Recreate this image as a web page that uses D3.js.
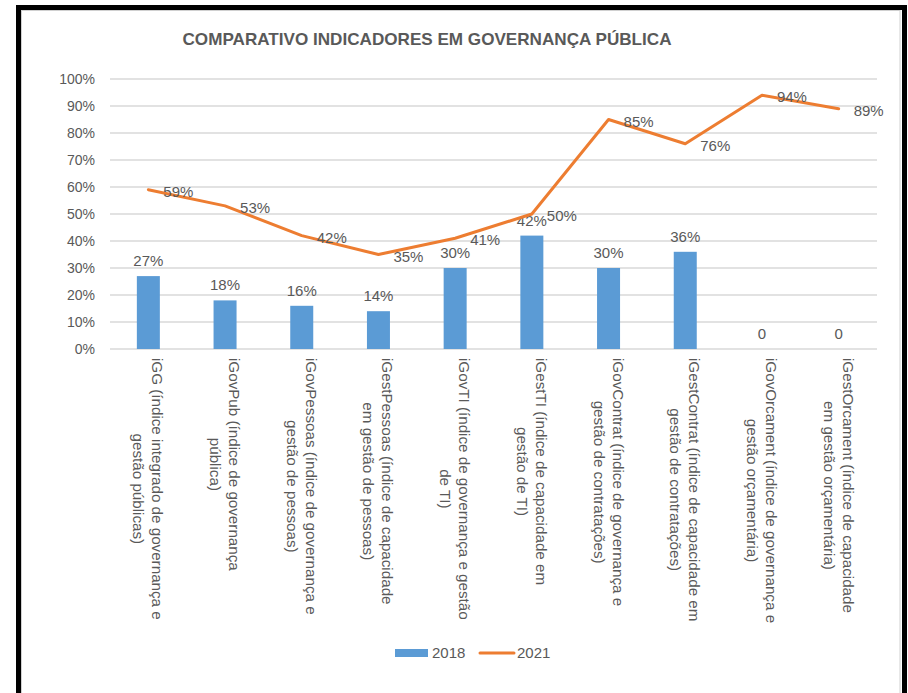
<!DOCTYPE html>
<html><head><meta charset="utf-8">
<script src="https://cdn.jsdelivr.net/npm/d3@7"></script>
<style>
html,body{margin:0;padding:0;background:#fff;overflow:hidden;}
text{font-family:"Liberation Sans",Arial,sans-serif;}
</style></head>
<body>
<svg id="chart" width="908" height="693"></svg>
<script>
const categories = [
  ["iGG (índice integrado de governança e", "gestão públicas)"],
  ["iGovPub (índice de governança", "pública)"],
  ["iGovPessoas (índice de governança e", "gestão de pessoas)"],
  ["iGestPessoas (índice de capacidade", "em gestão de pessoas)"],
  ["iGovTI (índice de governança e gestão", "de TI)"],
  ["iGestTI (índice de capacidade em", "gestão de TI)"],
  ["iGovContrat (índice de governança e", "gestão de contratações)"],
  ["iGestContrat (índice de capacidade em", "gestão de contratações)"],
  ["iGovOrcament (índice de governança e", "gestão orçamentária)"],
  ["iGestOrcament (índice de capacidade", "em gestão orçamentária)"]
];
const values2018 = [27, 18, 16, 14, 30, 42, 30, 36, 0, 0];
const values2021 = [59, 53, 42, 35, 41, 50, 85, 76, 94, 89];
const yTicks = [0, 10, 20, 30, 40, 50, 60, 70, 80, 90, 100];
const seriesNames = ["2018", "2021"];
const title = "COMPARATIVO INDICADORES EM GOVERNANÇA PÚBLICA";

const svg = d3.select("#chart");
const textColor = "#595959";
const barColor = "#5B9BD5";
const lineColor = "#ED7D31";

// frame
svg.append("rect").attr("x", 21.5).attr("y", 10.5).attr("width", 878.5).attr("height", 700)
  .attr("fill", "#fff").attr("stroke", "#d0d0d0").attr("stroke-width", 1);
svg.append("rect").attr("x", 18.5).attr("y", 7.5).attr("width", 886).attr("height", 700)
  .attr("fill", "none").attr("stroke", "#000").attr("stroke-width", 5);

// title
svg.append("text").attr("x", 427).attr("y", 45).attr("text-anchor", "middle")
  .attr("font-size", 17).attr("font-weight", "bold").attr("fill", textColor)
  .style("font-family", "'Liberation Sans Narrow','Liberation Sans',Arial,sans-serif")
  .attr("textLength", 489).attr("lengthAdjust", "spacingAndGlyphs")
  .text(title);

const x = d3.scaleBand().domain(d3.range(categories.length)).range([110, 877]).paddingInner(0).paddingOuter(0);
const y = d3.scaleLinear().domain([0, 100]).range([349, 79]);

// gridlines
svg.append("g").selectAll("line").data(yTicks).join("line")
  .attr("x1", 110).attr("x2", 877)
  .attr("y1", d => y(d)).attr("y2", d => y(d))
  .attr("stroke", "#d9d9d9").attr("stroke-width", 1.3);

// y axis labels
const yAxis = d3.axisLeft(y).tickValues(yTicks).tickFormat(d => d + "%").tickSize(0).tickPadding(0);
const ya = svg.append("g").attr("transform", "translate(95,0)").call(yAxis);
ya.select(".domain").remove();
ya.selectAll("text").attr("font-size", 14).attr("fill", textColor)
  .style("font-family", "'Liberation Sans',Arial,sans-serif").attr("dy", "0.35em");

// bars
const bw = 23;
svg.append("g").selectAll("rect").data(values2018).join("rect")
  .attr("x", (d, i) => x(i) + x.bandwidth() / 2 - bw / 2)
  .attr("width", bw)
  .attr("y", d => y(d))
  .attr("height", d => y(0) - y(d))
  .attr("fill", barColor);

// bar labels
svg.append("g").selectAll("text").data(values2018).join("text")
  .attr("x", (d, i) => x(i) + x.bandwidth() / 2)
  .attr("y", d => y(d) - 10)
  .attr("text-anchor", "middle").attr("font-size", 15).attr("fill", textColor)
  .text(d => d === 0 ? "0" : d + "%");

// line
const line = d3.line().x((d, i) => x(i) + x.bandwidth() / 2).y(d => y(d));
svg.append("path").datum(values2021).attr("d", line)
  .attr("fill", "none").attr("stroke", lineColor).attr("stroke-width", 3)
  .attr("stroke-linejoin", "round").attr("stroke-linecap", "round");

// line labels
svg.append("g").selectAll("text").data(values2021).join("text")
  .attr("x", (d, i) => x(i) + x.bandwidth() / 2 + 15)
  .attr("y", d => y(d) + 7)
  .attr("font-size", 15).attr("fill", textColor)
  .text(d => d + "%");

// category labels (rotated)
const fs = 15.2, lh = 19, yStart = 358;
const catG = svg.append("g");
categories.forEach((lines, i) => {
  const cx = x(i) + x.bandwidth() / 2;
  const g = catG.append("g");
  const texts = lines.map((ln, k) => g.append("text")
    .attr("font-size", fs).attr("fill", textColor).attr("text-anchor", "middle").text(ln));
  const maxW = d3.max(texts, t => t.node().getComputedTextLength());
  const b0 = 0.36 * fs - (lines.length - 1) * lh / 2;
  texts.forEach((t, k) => t.attr("x", maxW / 2).attr("y", b0 + k * lh));
  g.attr("transform", `translate(${cx},${yStart}) rotate(90)`);
});

// legend
const lg = svg.append("g");
lg.append("rect").attr("x", 395).attr("y", 649).attr("width", 33).attr("height", 8).attr("fill", barColor);
lg.append("text").attr("x", 432).attr("y", 658).attr("font-size", 15).attr("fill", textColor).text(seriesNames[0]);
lg.append("line").attr("x1", 480).attr("x2", 514).attr("y1", 653).attr("y2", 653)
  .attr("stroke", lineColor).attr("stroke-width", 3).attr("stroke-linecap", "round");
lg.append("text").attr("x", 517).attr("y", 658).attr("font-size", 15).attr("fill", textColor).text(seriesNames[1]);
</script>
</body></html>
